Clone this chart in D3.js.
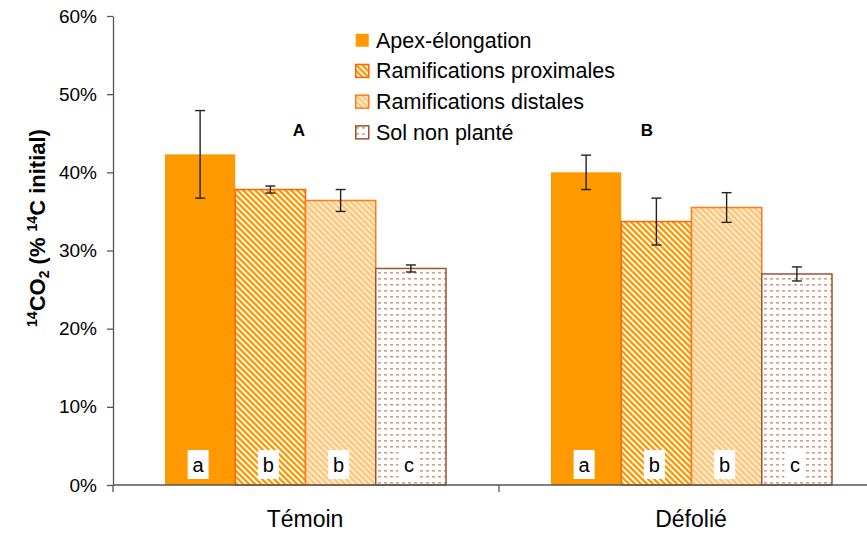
<!DOCTYPE html>
<html>
<head>
<meta charset="utf-8">
<script src="https://cdn.jsdelivr.net/npm/d3@7/dist/d3.min.js"></script>
<style>
  html, body { margin: 0; padding: 0; background: #fff; }
  svg { display: block; font-family: "Liberation Sans", Arial, sans-serif; }
</style>
</head>
<body>
<svg id="chart" width="867" height="533"></svg>
<script>
// ---- data ----
const groups = ["Témoin", "Défolié"];
const series = ["Apex-élongation", "Ramifications proximales", "Ramifications distales", "Sol non planté"];
const valuesTemoin = [0.423, 0.378, 0.364, 0.277];
const valuesDefolie = [0.400, 0.337, 0.355, 0.270];
const errTemoin = [0.056, 0.0045, 0.014, 0.0045];
const errDefolie = [0.022, 0.030, 0.019, 0.009];
const lettersTemoin = ["a", "b", "b", "c"];
const lettersDefolie = ["a", "b", "b", "c"];
const groupLabels = ["A", "B"];
const yTicks = [0, 0.1, 0.2, 0.3, 0.4, 0.5, 0.6];

const values = [valuesTemoin, valuesDefolie];
const errs = [errTemoin, errDefolie];
const letters = [lettersTemoin, lettersDefolie];

const svg = d3.select("#chart");
const defs = svg.append("defs");

// patterns
const pProx = defs.append("pattern").attr("id", "pProx").attr("patternUnits", "userSpaceOnUse")
  .attr("width", 6).attr("height", 6);
pProx.append("rect").attr("width", 6).attr("height", 6).attr("fill", "#fff");
pProx.append("path").attr("d", "M-1.5,-1.5 L7.5,7.5 M-1.5,4.5 L1.5,7.5 M4.5,-1.5 L7.5,1.5")
  .attr("stroke", "#FF9900").attr("stroke-width", 2.3);

const pDist = defs.append("pattern").attr("id", "pDist").attr("patternUnits", "userSpaceOnUse")
  .attr("width", 6).attr("height", 6);
pDist.append("rect").attr("width", 6).attr("height", 6).attr("fill", "#FFE7C7");
pDist.append("path").attr("d", "M-1.5,-1.5 L7.5,7.5 M-1.5,4.5 L1.5,7.5 M4.5,-1.5 L7.5,1.5")
  .attr("stroke", "#FFC066").attr("stroke-width", 1.6);

const pSol = defs.append("pattern").attr("id", "pSol").attr("patternUnits", "userSpaceOnUse")
  .attr("width", 6).attr("height", 6);
pSol.append("rect").attr("width", 6).attr("height", 6).attr("fill", "#fff");
pSol.append("rect").attr("x", 1).attr("y", 2).attr("width", 3).attr("height", 1.6).attr("fill", "#D39C84");

const fills = ["#FF9900", "url(#pProx)", "url(#pDist)", "url(#pSol)"];
const strokes = ["none", "#FF6600", "#FF7A1A", "#A0522D"];

// scales
const y = d3.scaleLinear().domain([0, 0.6]).range([485, 16]);
const x0 = d3.scaleBand().domain(groups).range([113, 885]).padding(0);
const x1 = d3.scaleBand().domain(series).range([52, 333]).padding(0);

// axes
const yAxis = svg.append("g").attr("transform", "translate(113,0)")
  .call(d3.axisLeft(y).tickValues(yTicks).tickFormat(d3.format(".0%")).tickSize(6).tickPadding(10).tickSizeOuter(0));
yAxis.select(".domain").attr("stroke", "#555").attr("stroke-width", 1.3);
yAxis.selectAll(".tick line").attr("stroke", "#555").attr("stroke-width", 1.3);
yAxis.selectAll(".tick text").attr("font-size", 19).attr("fill", "#000")
  .attr("font-family", "Liberation Sans, Arial, sans-serif");

// bars
groups.forEach((g, gi) => {
  const gx = x0(g);
  const gEl = svg.append("g").attr("transform", `translate(${gx},0)`);
  series.forEach((s, si) => {
    const v = values[gi][si];
    gEl.append("rect")
      .attr("x", x1(s)).attr("y", y(v))
      .attr("width", x1.bandwidth()).attr("height", y(0) - y(v))
      .attr("fill", fills[si])
      .attr("stroke", strokes[si]).attr("stroke-width", 1.5);
  });
  // letters
  series.forEach((s, si) => {
    const cx = x1(s) + x1.bandwidth() / 2 - 2;
    gEl.append("rect").attr("x", cx - 10.5).attr("y", 450).attr("width", 21).attr("height", 29).attr("fill", "#fff");
    gEl.append("text").attr("x", cx).attr("y", 472).attr("text-anchor", "middle")
      .attr("font-size", 20).attr("fill", "#000").text(letters[gi][si]);
  });
  // error bars
  series.forEach((s, si) => {
    const v = values[gi][si], e = errs[gi][si];
    const cx = x1(s) + x1.bandwidth() / 2;
    const eg = gEl.append("g").attr("stroke", "#222").attr("stroke-width", 1.4);
    eg.append("line").attr("x1", cx).attr("x2", cx).attr("y1", y(v + e)).attr("y2", y(v - e));
    eg.append("line").attr("x1", cx - 5).attr("x2", cx + 5).attr("y1", y(v + e)).attr("y2", y(v + e));
    eg.append("line").attr("x1", cx - 5).attr("x2", cx + 5).attr("y1", y(v - e)).attr("y2", y(v - e));
  });
});

// x axis
const xAxis = svg.append("g").attr("transform", "translate(0,485)");
xAxis.append("line").attr("x1", 113).attr("x2", 867).attr("y1", 0).attr("y2", 0)
  .attr("stroke", "#555").attr("stroke-width", 1.3);
groups.forEach(g => {
  xAxis.append("line").attr("x1", x0(g)).attr("x2", x0(g)).attr("y1", 0).attr("y2", 7)
    .attr("stroke", "#555").attr("stroke-width", 1.3);
  xAxis.append("text").attr("x", x0(g) + x0.bandwidth() / 2 - 1).attr("y", 42)
    .attr("text-anchor", "middle").attr("font-size", 23).attr("fill", "#000").text(g);
});

// group labels A / B
groups.forEach((g, gi) => {
  svg.append("text").attr("x", x0(g) + (gi === 0 ? 186 : 148)).attr("y", 136)
    .attr("text-anchor", "middle").attr("font-size", 17).attr("font-weight", "bold")
    .attr("fill", "#000").text(groupLabels[gi]);
});

// y label
const yl = svg.append("text").attr("transform", "translate(45,228) rotate(-90)")
  .attr("text-anchor", "middle").attr("font-size", 22).attr("font-weight", "bold").attr("fill", "#000");
yl.append("tspan").attr("font-size", 14).attr("dy", -8).text("14");
yl.append("tspan").attr("dy", 8).text("CO");
yl.append("tspan").attr("font-size", 14).attr("dy", 4).text("2");
yl.append("tspan").attr("dy", -4).text(" (% ");
yl.append("tspan").attr("font-size", 14).attr("dy", -8).text("14");
yl.append("tspan").attr("dy", 8).text("C initial)");

// legend
const leg = svg.append("g").attr("transform", "translate(355,33)");
series.forEach((s, si) => {
  const row = leg.append("g").attr("transform", `translate(0,${si * 30.7})`);
  row.append("rect").attr("x", 0.75).attr("y", 0.75).attr("width", 13).attr("height", 13)
    .attr("fill", fills[si]).attr("stroke", strokes[si]).attr("stroke-width", 1.5);
  row.append("text").attr("x", 21).attr("y", 14.5).attr("font-size", 21.5).attr("fill", "#000").text(s);
});
</script>
</body>
</html>
